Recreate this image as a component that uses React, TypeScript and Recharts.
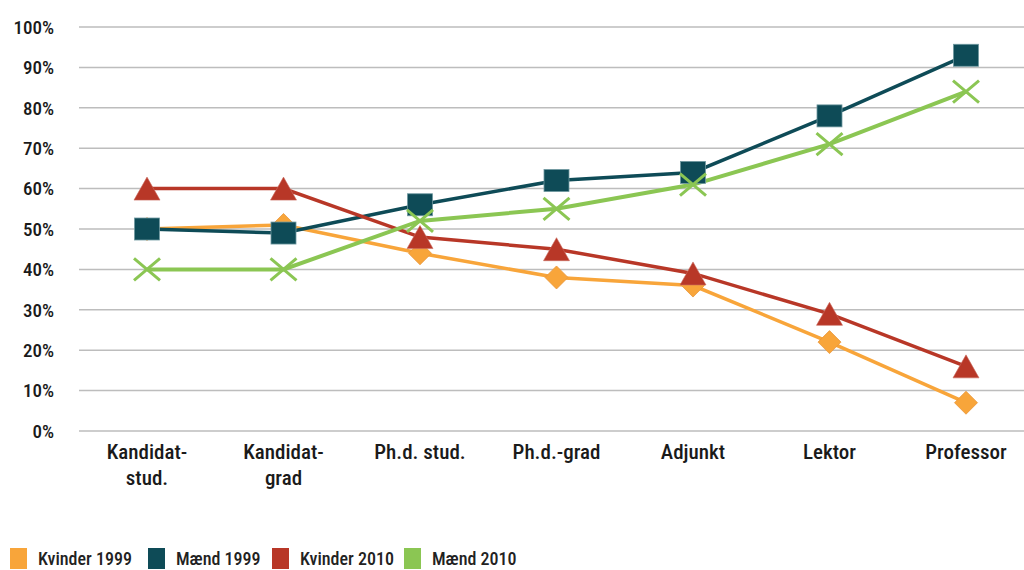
import React from "react"
import { LineChart, Line, XAxis, YAxis, CartesianGrid, Legend } from "recharts"

// categories (line break inside a label = "\n")
const categories = ["Kandidat-\nstud.", "Kandidat-\ngrad", "Ph.d. stud.", "Ph.d.-grad", "Adjunkt", "Lektor", "Professor"]

const kvinder1999 = [50, 51, 44, 38, 36, 22, 7]
const maend1999 = [50, 49, 56, 62, 64, 78, 93]
const kvinder2010 = [60, 60, 48, 45, 39, 29, 16]
const maend2010 = [40, 40, 52, 55, 61, 71, 84]

const yTicks = [0, 10, 20, 30, 40, 50, 60, 70, 80, 90, 100]

const seriesNames = ["Kvinder 1999", "Mænd 1999", "Kvinder 2010", "Mænd 2010"]
const colors = ["#F8A53A", "#0E4B57", "#B83727", "#8BC653"]

const FONT = '"Liberation Sans Narrow", "Roboto Condensed", "DejaVu Sans Condensed", Roboto, sans-serif'

// legend item widths (square + label + gap) so squares line up with the original
const legendItemWidths = [138, 124, 132, undefined]

const chartData = categories.map((cat, i) => ({
  cat,
  k1999: kvinder1999[i],
  m1999: maend1999[i],
  k2010: kvinder2010[i],
  m2010: maend2010[i],
}))

// marker shapes
const diamondDot = (props: any) => {
  const { cx, cy, index } = props
  const r = 11.5
  return (
    <path
      key={`d-${index}`}
      d={`M${cx},${cy - r} L${cx + r},${cy} L${cx},${cy + r} L${cx - r},${cy} Z`}
      fill={colors[0]}
      stroke="#e8953a"
      strokeWidth={0.8}
    />
  )
}

const squareDot = (props: any) => {
  const { cx, cy, index } = props
  return (
    <rect key={`s-${index}`} x={cx - 12.5} y={cy - 11} width={25} height={22} fill={colors[1]} stroke="#6f98a0" strokeWidth={0.8} />
  )
}

const triangleDot = (props: any) => {
  const { cx, cy, index } = props
  return (
    <path
      key={`t-${index}`}
      d={`M${cx},${cy - 11.5} L${cx + 13},${cy + 11.5} L${cx - 13},${cy + 11.5} Z`}
      fill={colors[2]}
      stroke="#c9695e"
      strokeWidth={0.6}
    />
  )
}

const crossDot = (props: any) => {
  const { cx, cy, index } = props
  return (
    <path
      key={`x-${index}`}
      d={`M${cx - 13},${cy - 11} L${cx + 13},${cy + 11} M${cx - 13},${cy + 11} L${cx + 13},${cy - 11}`}
      stroke={colors[3]}
      strokeWidth={3}
      fill="none"
    />
  )
}

const CategoryTick = ({ x, y, payload }: any) => {
  const lines = String(payload.value).split("\n")
  return (
    <text x={x} y={y} textAnchor="middle" fill="#1a1a1a" fontSize={21} fontWeight={500} fontFamily={FONT}>
      {lines.map((line, i) => (
        <tspan key={i} x={x} dy={i === 0 ? 20 : 26}>
          {line}
        </tspan>
      ))}
    </text>
  )
}

const LegendContent = () => (
  <div
    style={{
      display: "flex",
      alignItems: "center",
      height: 27,
      boxSizing: "border-box",
      paddingTop: 4,
      paddingLeft: 10,
      fontFamily: FONT,
      fontSize: 18,
      fontWeight: 500,
      color: "#222",
    }}
  >
    {seriesNames.map((name, i) => (
      <div key={name} style={{ display: "flex", alignItems: "center", width: legendItemWidths[i], flexShrink: 0 }}>
        <div style={{ width: 17, height: 21, background: colors[i], marginRight: 11 }} />
        <span>{name}</span>
      </div>
    ))}
  </div>
)

export default function App() {
  return (
    <div style={{ position: "absolute", left: 0, top: 0, width: 1024, height: 570, overflow: "hidden", background: "#fff", fontFamily: FONT }}>
      <LineChart width={1034} height={570} data={chartData} margin={{ top: 27, right: 0, left: 0, bottom: 0 }}>
        <CartesianGrid vertical={false} stroke="#BDBDBD" strokeWidth={1.5} />
        <XAxis
          dataKey="cat"
          axisLine={false}
          tickLine={false}
          interval={0}
          height={112}
          padding={{ left: 68, right: 68 }}
          tick={<CategoryTick />}
        />
        <YAxis
          domain={[0, 100]}
          ticks={yTicks}
          width={79}
          axisLine={false}
          tickLine={false}
          tickSize={0}
          tickMargin={25}
          tickFormatter={(v) => `${v}%`}
          tick={{ fill: "#1a1a1a", fontSize: 19, fontWeight: 500 }}
        />
        <Legend verticalAlign="bottom" content={<LegendContent />} wrapperStyle={{ left: 0 }} />
        <Line dataKey="k1999" name={seriesNames[0]} stroke={colors[0]} strokeWidth={3.5} dot={diamondDot} activeDot={false} isAnimationActive={false} />
        <Line dataKey="m1999" name={seriesNames[1]} stroke={colors[1]} strokeWidth={3.5} dot={squareDot} activeDot={false} isAnimationActive={false} />
        <Line dataKey="k2010" name={seriesNames[2]} stroke={colors[2]} strokeWidth={3.5} dot={triangleDot} activeDot={false} isAnimationActive={false} />
        <Line dataKey="m2010" name={seriesNames[3]} stroke={colors[3]} strokeWidth={4} dot={crossDot} activeDot={false} isAnimationActive={false} />
      </LineChart>
    </div>
  )
}
